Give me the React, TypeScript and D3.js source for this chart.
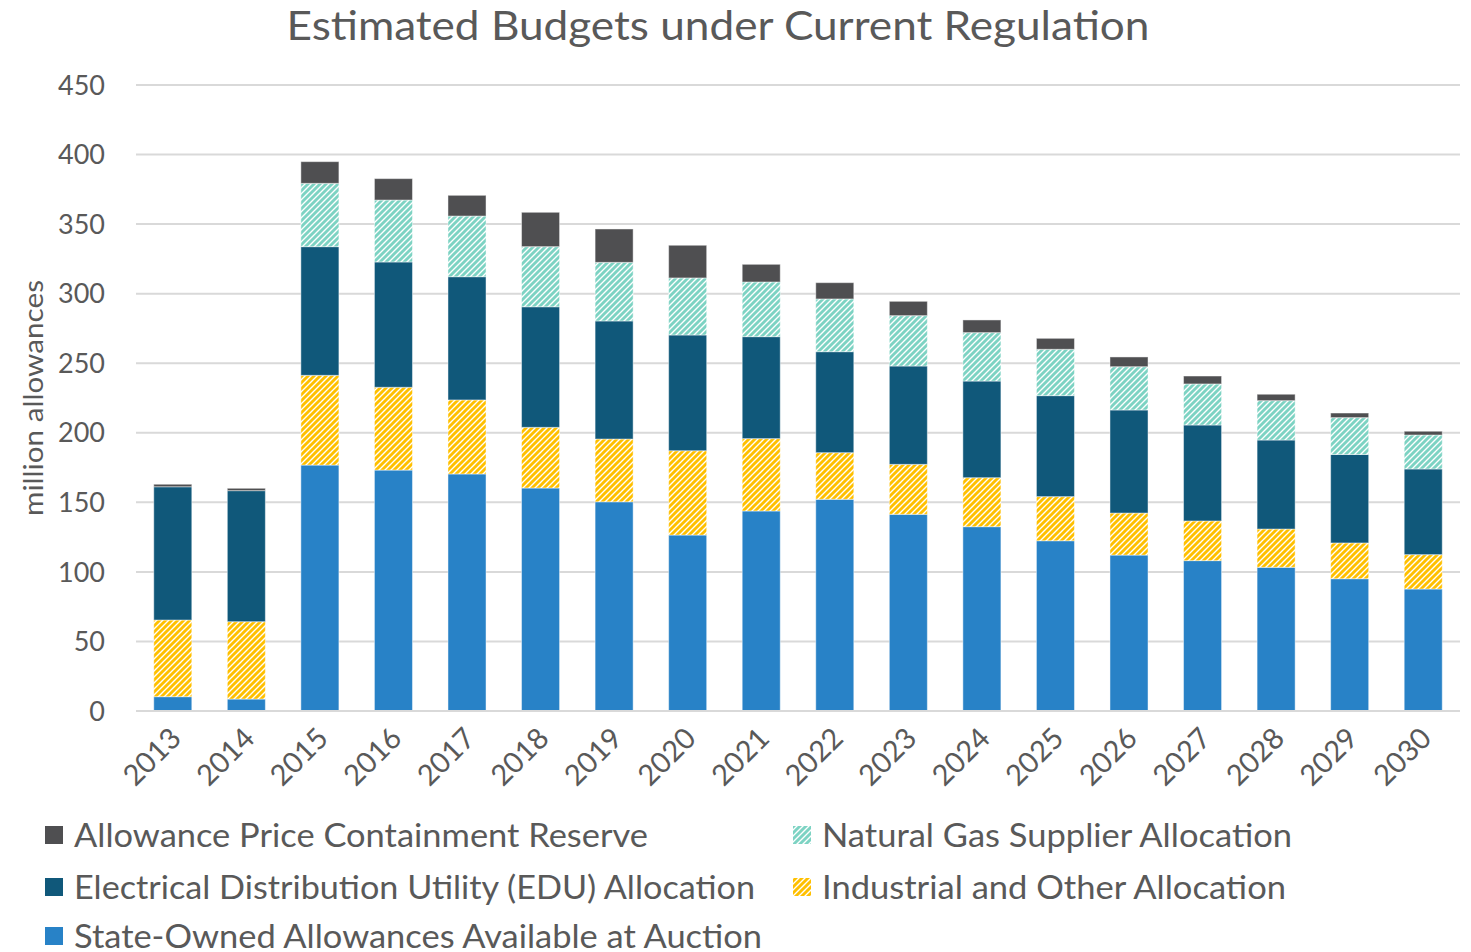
import React from "react";
import * as d3 from "d3";

const years = ["2013","2014","2015","2016","2017","2018","2019","2020","2021","2022","2023","2024","2025","2026","2027","2028","2029","2030"];
const stateOwned = [10.3, 8.6, 176.8, 173.2, 170.4, 160.3, 150.4, 126.5, 143.8, 152.2, 141.4, 132.5, 122.4, 112.1, 108.1, 103.3, 95.1, 87.7];
const industrial = [55.1, 55.6, 64.5, 59.5, 53.2, 43.6, 45.1, 60.6, 52.0, 33.5, 35.9, 35.2, 31.7, 30.2, 28.5, 27.5, 25.7, 24.7];
const edu = [95.8, 94.2, 92.5, 90.1, 88.6, 86.7, 84.9, 83.2, 73.3, 72.6, 70.7, 69.5, 72.6, 74.1, 69.0, 64.0, 63.6, 61.6];
const naturalGas = [0, 0, 45.5, 44.5, 43.6, 43.2, 42.1, 41.0, 39.3, 37.9, 36.2, 34.8, 33.3, 31.1, 29.5, 28.3, 26.5, 24.4];
const apcr = [1.8, 1.7, 15.6, 15.4, 14.9, 24.7, 24.0, 23.5, 12.7, 11.7, 10.3, 9.1, 7.9, 7.0, 5.7, 4.6, 3.3, 2.7];
const yTicks = [0, 50, 100, 150, 200, 250, 300, 350, 400, 450];

const seriesNames = [
  "State-Owned Allowances Available at Auction",
  "Industrial and Other Allocation",
  "Electrical Distribution Utility (EDU) Allocation",
  "Natural Gas Supplier Allocation",
  "Allowance Price Containment Reserve",
];
const seriesData = [stateOwned, industrial, edu, naturalGas, apcr];
const fills = ["#2882c7", "url(#hatchYellow)", "#10587a", "url(#hatchTeal)", "#4f4f51"];

const FONT = "Lato, 'Open Sans', sans-serif";
const TXT = "#595959";

export default function App() {
  const W = 1471, H = 952;
  const x0 = 136, x1 = 1460;
  const yBase = 711, yTop = 85;
  const x = d3.scaleBand<string>().domain(years).range([x0, x1]).paddingInner(0.483).paddingOuter(0.2415);
  const y = d3.scaleLinear().domain([0, 450]).range([yBase, yTop]);

  const rows = years.map((yr, i) => {
    const r: any = { year: yr };
    seriesNames.forEach((n, k) => (r[n] = seriesData[k][i]));
    return r;
  });
  const stacked = d3.stack<any>().keys(seriesNames)(rows);

  const legend = [
    { name: "Allowance Price Containment Reserve", fill: "#4f4f51", x: 45, y: 835, len: 574 },
    { name: "Natural Gas Supplier Allocation", fill: "url(#hatchTeal)", x: 793, y: 835, len: 470 },
    { name: "Electrical Distribution Utility (EDU) Allocation", fill: "#10587a", x: 45, y: 887, len: 681 },
    { name: "Industrial and Other Allocation", fill: "url(#hatchYellow)", x: 793, y: 887, len: 464 },
    { name: "State-Owned Allowances Available at Auction", fill: "#2882c7", x: 45, y: 936, len: 688 },
  ];

  return (
    <svg width={W} height={H} style={{ position: "absolute", left: 0, top: 0, background: "#fff" }} fontFamily={FONT}>
      <defs>
        <pattern id="hatchYellow" patternUnits="userSpaceOnUse" width="6" height="6">
          <rect width="6" height="6" fill="#ffffff" />
          <path d="M-1,1 l2,-2 M0,6 l6,-6 M5,7 l2,-2" stroke="#ffc000" strokeWidth="2.9" />
        </pattern>
        <pattern id="hatchTeal" patternUnits="userSpaceOnUse" width="6" height="6">
          <rect width="6" height="6" fill="#ffffff" />
          <path d="M-1,1 l2,-2 M0,6 l6,-6 M5,7 l2,-2" stroke="#7dd3c3" strokeWidth="2.9" />
        </pattern>
      </defs>
      <rect width={W} height={H} fill="#fff" />
      <text x={718} y={40} textAnchor="middle" fontSize={40} fill={TXT} textLength={863} lengthAdjust="spacingAndGlyphs">
        Estimated Budgets under Current Regulation
      </text>
      {yTicks.map((t) => (
        <g key={t}>
          {t > 0 && <line x1={x0} x2={x1} y1={y(t)} y2={y(t)} stroke="#d9d9d9" strokeWidth={2} />}
          <text x={105} y={y(t)} dy="0.36em" textAnchor="end" fontSize={27} fill={TXT}>{t}</text>
        </g>
      ))}
      <text transform={`translate(43,${398}) rotate(-90)`} textAnchor="middle" fontSize={27} fill={TXT} textLength={236} lengthAdjust="spacingAndGlyphs">
        million allowances
      </text>
      {stacked.map((s, k) => (
        <g key={s.key}>
          {s.map((d, i) => (
            d[1] - d[0] > 0 ? (
              <rect key={i} x={x(years[i])} width={x.bandwidth()} y={y(d[1])} height={y(d[0]) - y(d[1])}
                fill={fills[k]} stroke="#ffffff" strokeOpacity={0.45} strokeWidth={1} />
            ) : null
          ))}
        </g>
      ))}
      <line x1={x0} x2={x1} y1={yBase} y2={yBase} stroke="#d9d9d9" strokeWidth={2} />
      {years.map((yr) => {
        const cx = (x(yr) as number) + x.bandwidth() / 2 + 10;
        return (
          <text key={yr} transform={`translate(${cx},${740}) rotate(-45)`} textAnchor="end" fontSize={29} fill={TXT}>{yr}</text>
        );
      })}
      {legend.map((l) => (
        <g key={l.name}>
          <rect x={l.x} y={l.y - 9} width={18} height={18} fill={l.fill} />
          <text x={l.x + 29} y={l.y} dy="0.36em" fontSize={33} fill={TXT} textLength={l.len} lengthAdjust="spacingAndGlyphs">{l.name}</text>
        </g>
      ))}
    </svg>
  );
}
